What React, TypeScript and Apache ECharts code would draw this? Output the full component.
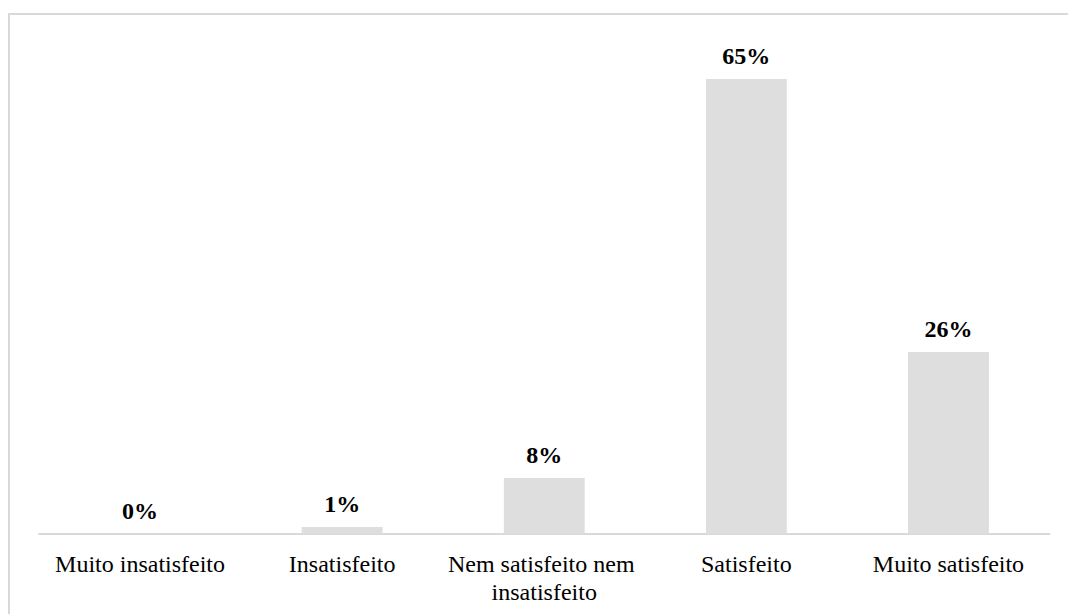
import React, { useEffect, useRef } from "react";
import * as echarts from "echarts";

// Satisfaction levels and their share of responses (%)
const categories = [
  "Muito insatisfeito",
  "Insatisfeito",
  "Nem satisfeito nem insatisfeito",
  "Satisfeito",
  "Muito satisfeito",
];
const shares = [0, 1, 8, 65, 26];

const FONT = "Liberation Serif";

export default function App() {
  const ref = useRef<HTMLDivElement>(null);

  useEffect(() => {
    if (!ref.current) return;
    const chart = echarts.init(ref.current, undefined, { renderer: "svg" });
    chart.setOption({
      animation: false,
      backgroundColor: "#ffffff",
      graphic: [
        {
          type: "rect",
          shape: { x: 9, y: 14, width: 1100, height: 700 },
          style: { fill: "none", stroke: "#d9d9d9", lineWidth: 2 },
          silent: true,
        },
      ],
      grid: { left: 39, right: 18.5, top: 44, bottom: 80 },
      xAxis: {
        type: "category",
        data: categories,
        axisLine: { show: true, lineStyle: { color: "#d9d9d9", width: 2 } },
        axisTick: { show: false },
        axisLabel: {
          interval: 0,
          margin: 16,
          color: "#000000",
          fontFamily: FONT,
          fontSize: 24,
          lineHeight: 28,
          width: 196,
          overflow: "break",
        },
      },
      yAxis: {
        type: "value",
        min: 0,
        max: 70,
        show: false,
        splitLine: { show: false },
      },
      series: [
        {
          type: "bar",
          data: shares,
          barWidth: "40%",
          itemStyle: { color: "#dedede" },
          label: {
            show: true,
            position: "top",
            distance: 11,
            formatter: "{c}%",
            color: "#000000",
            fontFamily: FONT,
            fontSize: 24,
            fontWeight: "bold",
          },
        },
      ],
    });
    return () => chart.dispose();
  }, []);

  return (
    <div
      ref={ref}
      style={{ position: "fixed", left: 0, top: 0, width: 1068, height: 614 }}
    />
  );
}
